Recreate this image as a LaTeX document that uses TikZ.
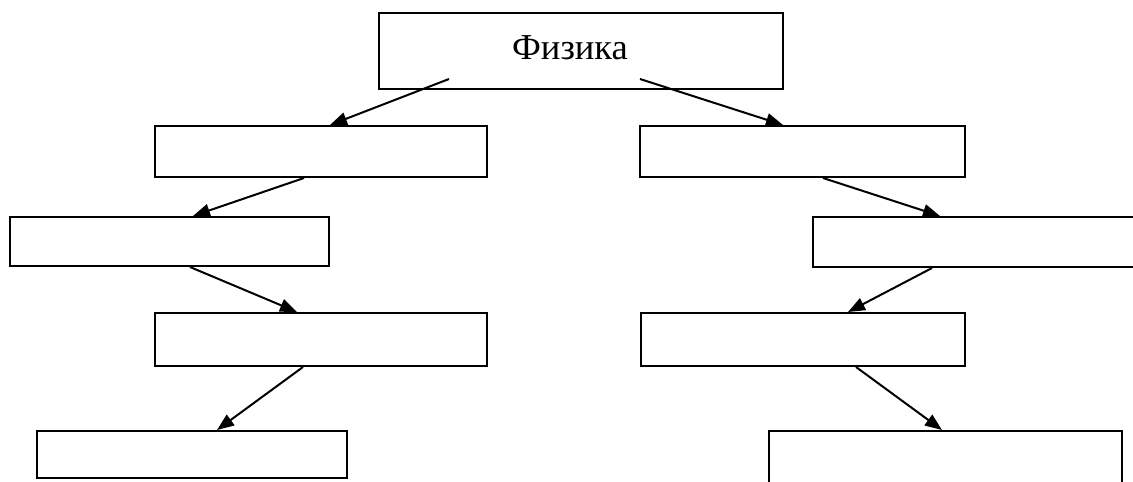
\documentclass[tikz,border=0pt]{standalone}
\usepackage{fontspec}
\setmainfont{Liberation Serif}
\usetikzlibrary{arrows.meta}

\tikzset{
  box/.style={draw, line width=2pt, inner sep=0pt},
  link/.style={line width=2pt, -{Triangle[length=17pt,width=13pt]}}
}

\begin{document}
\begin{tikzpicture}[x=1pt,y=-1pt]
          \useasboundingbox (0,0) rectangle (1133,482);
          \clip (0,0) rectangle (1133,482);

          % Top box
          \node[box, minimum width=404pt, minimum height=76pt] (fiz) at (581,51) {};
          \node[font=\fontsize{36.5}{40}\selectfont, inner sep=0pt] (fiztext) at (570,48) {Физика};
          \coordinate (fizL) at (449,79);
          \coordinate (fizR) at (640,79);

          % Left column
          \node[box, minimum width=332pt, minimum height=51pt] (l1) at (321,151.5) {};
          \node[box, minimum width=319pt, minimum height=49pt] (l2) at (169.5,241.5) {};
          \node[box, minimum width=332pt, minimum height=53pt] (l3) at (321,339.5) {};
          \node[box, minimum width=310pt, minimum height=47pt] (l4) at (192,454.5) {};

          % Right column
          \node[box, minimum width=325pt, minimum height=51pt] (r1) at (802.5,151.5) {};
          \node[box, minimum width=332pt, minimum height=50pt] (r2) at (979,242) {};
          \node[box, minimum width=324pt, minimum height=53pt] (r3) at (803,339.5) {};
          \node[box, minimum width=353pt, minimum height=64pt] (r4) at (945.5,463) {};

          % Arrows
          \draw[link] (fizL) -- ([xshift=9pt]l1.north);
          \draw[link] (fizR) -- ([xshift=-19.5pt]r1.north);
          \draw[link] ([xshift=-17pt]l1.south) -- ([xshift=23.5pt]l2.north);
          \draw[link] ([xshift=20.5pt]r1.south) -- ([xshift=-39pt]r2.north);
          \draw[link] ([xshift=20.5pt]l2.south) -- ([xshift=-24pt]l3.north);
          \draw[link] ([xshift=-47pt]r2.south) -- ([xshift=45pt]r3.north);
          \draw[link] ([xshift=-18pt]l3.south) -- ([xshift=25pt]l4.north);
          \draw[link] ([xshift=53pt]r3.south) -- ([xshift=-3.5pt]r4.north);

      \end{tikzpicture}
\end{document}
